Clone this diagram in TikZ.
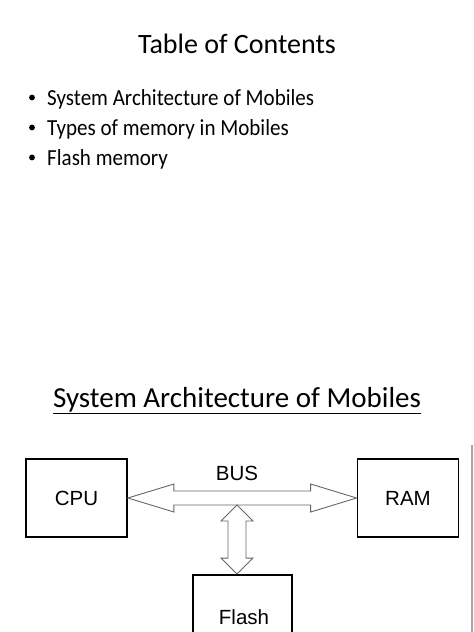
\documentclass[tikz,border=0pt]{standalone}
\usepackage{fontspec}
\setmainfont{Carlito}
\newfontfamily\diagfont{Liberation Sans}
\usetikzlibrary{calc}

\begin{document}
\begin{tikzpicture}[x=1pt, y=-1pt]
  \useasboundingbox (0, 0) rectangle (474, 632);
  \clip (0, 0) rectangle (474, 632);

  \tikzstyle{heading}=[anchor=base, inner sep=0pt, font=\fontsize{28}{34}\selectfont]
  \tikzstyle{item}=[anchor=base west, inner sep=0pt, font=\fontsize{23}{28}\selectfont]
  \tikzstyle{box}=[draw, line width=1.8pt, minimum width=101pt, minimum height=78pt, inner sep=0pt, font=\diagfont\fontsize{20.5}{24}\selectfont]
  \tikzstyle{fat}=[draw=black!60, line width=0.9pt, fill=white, line join=miter]

  \node[heading] (toc) at (237, 53) {Table of Contents};
  \node[item] (i1) at (47, 105) {\scalebox{0.915}[1]{System Architecture of Mobiles}};
  \node[item] (i2) at (47, 135) {\scalebox{0.915}[1]{Types of memory in Mobiles}};
  \node[item] (i3) at (47, 165) {\scalebox{0.915}[1]{Flash memory}};
  \foreach \n in {i1, i2, i3}
    \fill ($(\n.base west) + (-15, -7.5)$) circle (2.9pt);

  \node[heading, font=\fontsize{29}{34}\selectfont] (arch) at (237, 407) {\underline{System Architecture of Mobiles}};

  % right edge of the slide
  \draw[black!35, line width=1.5pt] (472, 445) -- (472, 632);

  \node[box] (cpu) at (76.5, 498) {CPU};
  \node[box] (ram) at (408, 498) {RAM};
  \node[box, minimum width=99pt, minimum height=84pt] (flash) at (242.5, 617) {};
  \node[font=\diagfont\fontsize{20.5}{24}\selectfont] at (244, 617) {Flash};
  \node[font=\diagfont\fontsize{20.5}{24}\selectfont] (bus) at (237, 473) {BUS};

  % bus arrow
  \draw[fat] (cpu.east) -- ++(46, -14) -- ++(0, 7) -- ($(ram.west) + (-46, -7)$) -- ++(0, -7)
    -- (ram.west) -- ++(-46, 14) -- ++(0, -7) -- ($(cpu.east) + (46, 7)$) -- ++(0, 7) -- cycle;

  % flash arrow
  \coordinate (hub) at (237, 505);
  \coordinate (fl) at (flash.north -| hub);
  \draw[fat] (hub) -- ++(16, 16) -- ++(-7, 0) -- ($(fl) + (9, -16)$) -- ++(7, 0)
    -- (fl) -- ++(-16, -16) -- ++(7, 0) -- ($(hub) + (-9, 16)$) -- ++(-7, 0) -- cycle;
\end{tikzpicture}
\end{document}
